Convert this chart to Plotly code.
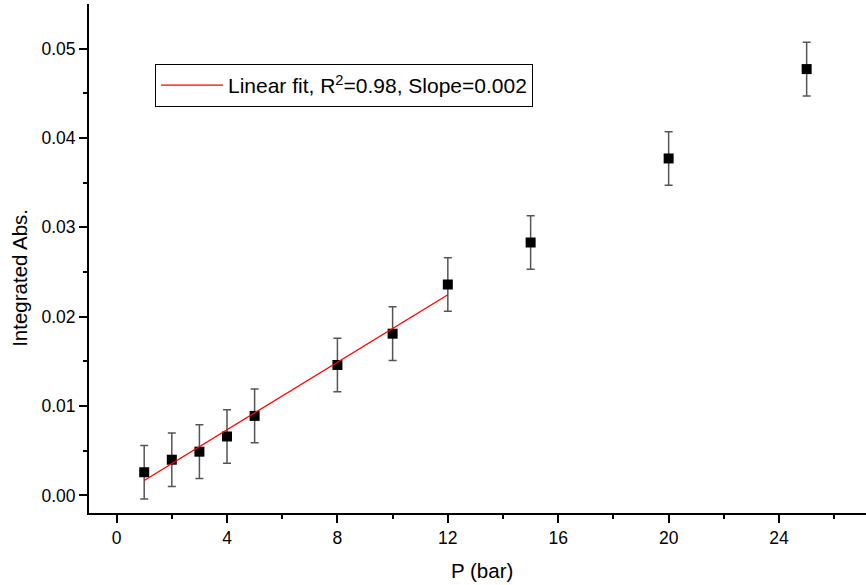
import plotly.graph_objects as go

# Data
pressure = [1, 2, 3, 4, 5, 8, 10, 12, 15, 20, 25]
integrated_abs = [0.0026, 0.0040, 0.0049, 0.0066, 0.0089, 0.0146, 0.0181, 0.0236, 0.0283, 0.0377, 0.0477]
abs_error = [0.003] * len(pressure)

fit_x = [1, 12]
fit_y = [0.00168, 0.02245]

x_tick_vals = [0, 4, 8, 12, 16, 20, 24]
y_tick_vals = [0.00, 0.01, 0.02, 0.03, 0.04, 0.05]
y_tick_text = ["0.00", "0.01", "0.02", "0.03", "0.04", "0.05"]

FONT = "Liberation Sans, Arial, sans-serif"

fig = go.Figure()

fig.add_trace(go.Scatter(
    x=pressure, y=integrated_abs, mode="markers",
    marker=dict(symbol="square", size=10, color="black"),
    error_y=dict(type="data", array=abs_error, visible=True,
                 color="#555555", thickness=1.5, width=4),
    showlegend=False,
))

fig.add_trace(go.Scatter(
    x=fit_x, y=fit_y, mode="lines",
    line=dict(color="red", width=1.3),
    name="Linear fit, R<sup>2</sup>=0.98, Slope=0.002",
))

fig.update_layout(
    width=866, height=585,
    margin=dict(l=89, r=0, t=4, b=72),
    paper_bgcolor="white", plot_bgcolor="white",
    font=dict(family=FONT, color="black", size=17.5),
    legend=dict(
        x=0.0849, y=0.882, xanchor="left", yanchor="top",
        bordercolor="black", borderwidth=1, bgcolor="white",
        font=dict(size=21, family=FONT),
        itemwidth=62,
    ),
    xaxis=dict(
        range=[-1, 27.15], showgrid=False, zeroline=False,
        showline=True, linecolor="black", linewidth=2,
        ticks="outside", ticklen=8, tickwidth=2, tickcolor="black",
        tickvals=x_tick_vals,
        minor=dict(ticks="outside", ticklen=4, tickwidth=2, tickcolor="black", dtick=2, tick0=0),
        tickfont=dict(size=17.5, family=FONT),
        automargin=False,
    ),
    yaxis=dict(
        range=[-0.00196, 0.05498], showgrid=False, zeroline=False,
        showline=True, linecolor="black", linewidth=2,
        ticks="outside", ticklen=8, tickwidth=2, tickcolor="black",
        tickvals=y_tick_vals, ticktext=y_tick_text,
        minor=dict(ticks="outside", ticklen=4, tickwidth=2, tickcolor="black", dtick=0.005, tick0=0),
        tickfont=dict(size=17.5, family=FONT),
        automargin=False,
    ),
    annotations=[
        dict(text="P (bar)", xref="paper", yref="paper", x=0.5058, y=0,
             xanchor="center", yanchor="middle", yshift=-57.5, showarrow=False,
             font=dict(size=20.5, family=FONT)),
        dict(text="Integrated Abs.", xref="paper", yref="paper", x=0, y=0.462,
             xanchor="center", yanchor="middle", xshift=-69, textangle=-90,
             showarrow=False, font=dict(size=20.5, family=FONT)),
    ],
)

fig.write_html("out.html", config={"displayModeBar": False},
               post_script="document.body.style.margin='0px';")
